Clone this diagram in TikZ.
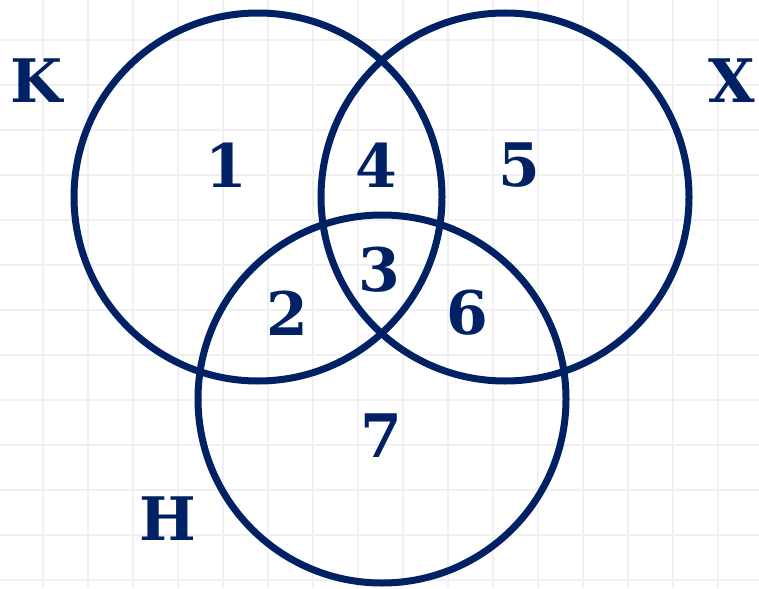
\documentclass[tikz,border=0pt]{standalone}
\usepackage{xcolor}
\usepackage{fontspec}
\setmainfont{DejaVu Serif}
\usepackage{tikz}
\usetikzlibrary{positioning}
\definecolor{mynavy}{RGB}{0,33,99}
\definecolor{mygrid}{RGB}{240,240,243}
\tikzset{
  setcircle/.style={circle, draw=mynavy, line width=7pt, minimum size=368pt,
    inner sep=0pt},
  setlabel/.style={font=\fontsize{60}{60}\selectfont\bfseries, text=mynavy,
    inner sep=0pt},
  region/.style={font=\fontsize{60}{60}\selectfont\bfseries, text=mynavy,
    inner sep=0pt},
  gridline/.style={draw=mygrid, line width=2.5pt}
}

\begin{document}
\begin{tikzpicture}[x=1pt, y=-1pt]
  \useasboundingbox (0,0) rectangle (759,588);
  \fill[white] (0,0) rectangle (759,588);

  % Background grid
  \foreach \gx in {43,88,133,178,223,268,313,358,403,448,493,538,583,628,673,718}
    \draw[gridline] (\gx,0) -- (\gx,588);
  \foreach \gy in {40,85,130,175,220,265,310,355,400,445,490,535,580}
    \draw[gridline] (0,\gy) -- (759,\gy);

  % Circles
  \node[setcircle] (k) at (258,197) {};
  \node[setcircle] (x) at (505,197) {};
  \node[setcircle] (h) at (382,399) {};

  % Set names
  \node[setlabel] (klab) at (37,81) {K};
  \node[setlabel] (xlab) at (732,81) {X};
  \node[setlabel] (hlab) at (168,519) {H};

  % Regions
  \node[region] (r1) at (226,165) {1};
  \node[region] (r4) at (376,165) {4};
  \node[region] (r5) at (519,165) {5};
  \node[region] (r3) at (379,270) {3};
  \node[region] (r2) at (287,313) {2};
  \node[region] (r6) at (467,313) {6};
  \node[region] (r7) at (381,436) {7};
\end{tikzpicture}
\end{document}
